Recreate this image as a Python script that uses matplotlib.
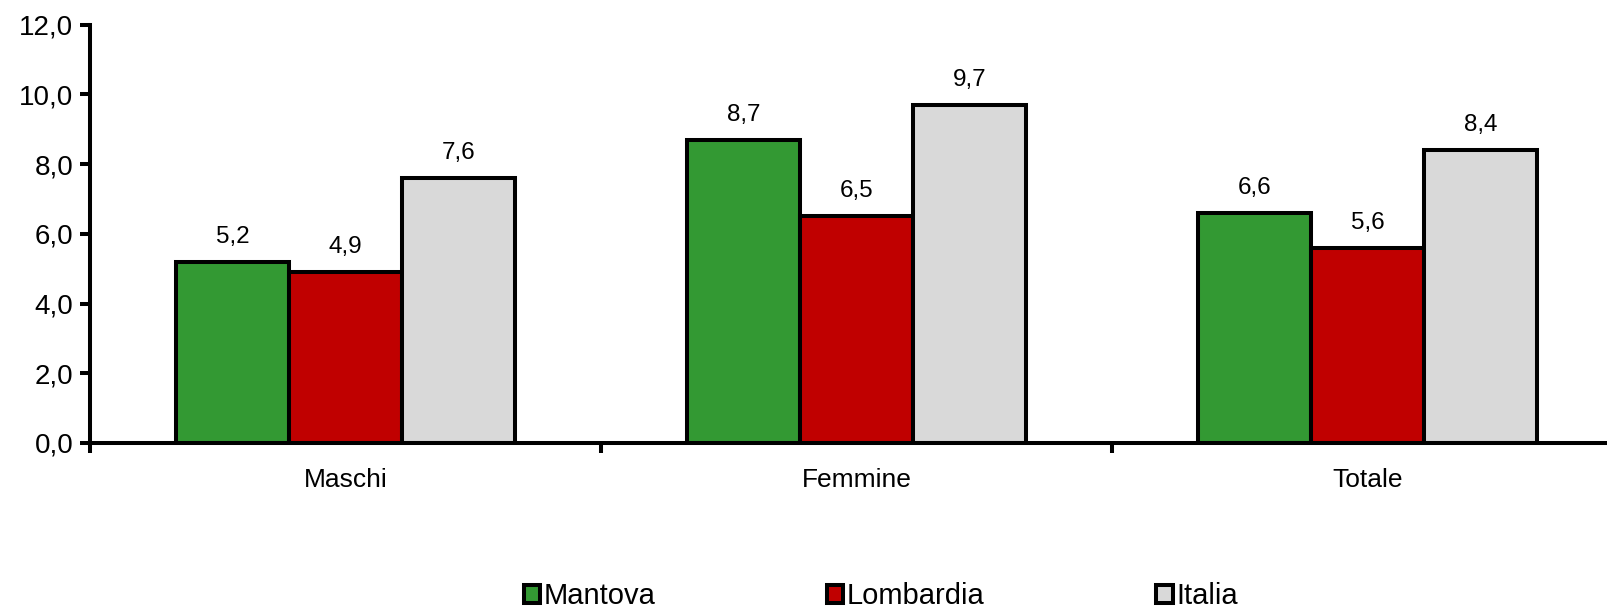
import matplotlib.pyplot as plt
import numpy as np

categorie = ["Maschi", "Femmine", "Totale"]
serie = ["Mantova", "Lombardia", "Italia"]
mantova = [5.2, 8.7, 6.6]
lombardia = [4.9, 6.5, 5.6]
italia = [7.6, 9.7, 8.4]
colori = ["#339933", "#C00000", "#D9D9D9"]

plt.rcParams["font.family"] = ["Liberation Sans", "DejaVu Sans"]

fig = plt.figure(figsize=(16.07, 6.11), dpi=100)
ax = fig.add_axes([90 / 1607, 168 / 611, 1517 / 1607, 418.5 / 611])

x = np.arange(len(categorie))
w = 0.221
valori = [mantova, lombardia, italia]
barre = []
for i, (nome, vals, col) in enumerate(zip(serie, valori, colori)):
    b = ax.bar(x + (i - 1) * w, vals, w, color=col, edgecolor="black",
               linewidth=2.9, label=nome, zorder=2)
    barre.append(b)
    for xi, v in zip(x + (i - 1) * w, vals):
        ax.annotate(("%.1f" % v).replace(".", ","), xy=(xi, v), xytext=(0, 10),
                    textcoords="offset points", ha="center", va="bottom",
                    fontsize=17.5)

ax.set_xlim(-0.5, 2.469)
ax.set_ylim(0, 12)
ax.set_yticks(np.arange(0, 12.1, 2))
ax.set_yticklabels([("%.1f" % t).replace(".", ",") for t in np.arange(0, 12.1, 2)],
                   fontsize=20)
# tick sui confini delle categorie, etichette al centro
ax.set_xticks([-0.5, 0.5, 1.5])
ax.set_xticklabels([])
ax.set_xticks(x, minor=True)
ax.set_xticklabels(categorie, minor=True, fontsize=19)
ax.tick_params(axis="x", which="minor", length=0, pad=18)
ax.tick_params(axis="x", which="major", length=7, width=2.9, direction="out")
ax.tick_params(axis="y", length=7, width=2.9, direction="out", pad=5)

for s in ["top", "right"]:
    ax.spines[s].set_visible(False)
for s in ["left", "bottom"]:
    ax.spines[s].set_linewidth(2.9)

leg = fig.legend(handles=barre, loc="center", bbox_to_anchor=(0.548, 0.024),
                 ncol=3, frameon=False, handlelength=0.55, handleheight=0.55,
                 handletextpad=0.12, columnspacing=5.9,
                 prop={"size": 21})

fig.savefig("out.png", dpi=100)
